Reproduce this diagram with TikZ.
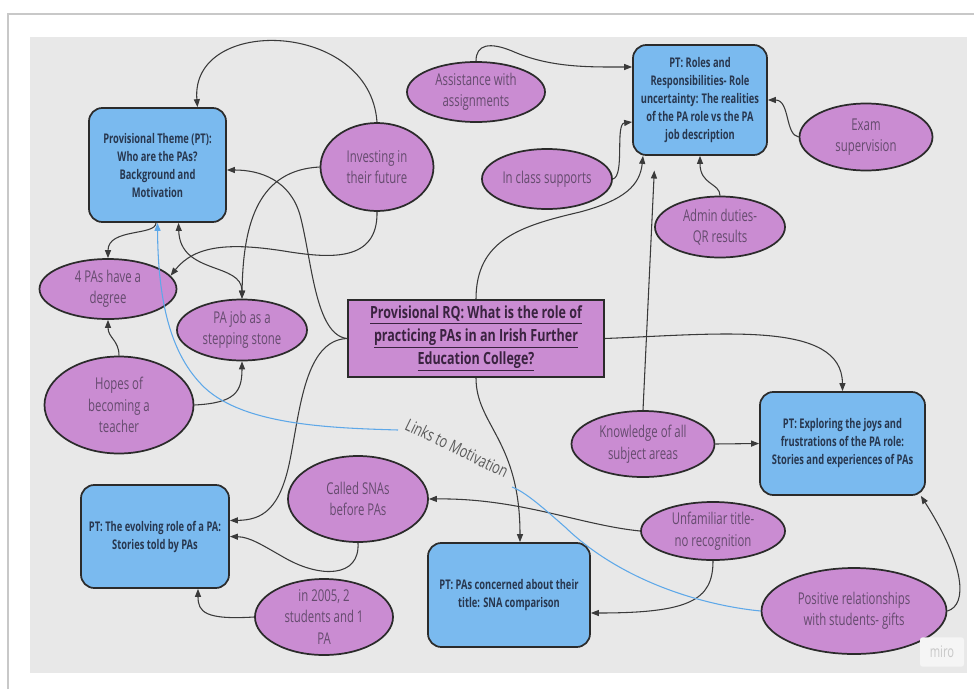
\documentclass[tikz,border=0pt]{standalone}
\usepackage{fontspec}
\setmainfont{Open Sans}[FakeStretch=0.70]
\newfontfamily\rqfont{Open Sans}[FakeStretch=0.745]
\newfontfamily\labelfont{Open Sans}[FakeStretch=0.74]
\usetikzlibrary{shapes.geometric,arrows.meta,calc}
\definecolor{panel}{HTML}{E8E8E8}
\definecolor{bluefill}{HTML}{7ABAEF}
\definecolor{purpfill}{HTML}{CA8CD2}
\definecolor{edgecol}{HTML}{2B2B2B}
\definecolor{bluetext}{HTML}{28374F}
\definecolor{purptext}{HTML}{654B6E}
\definecolor{rqtext}{HTML}{3A2340}
\definecolor{conncol}{HTML}{3A3A3A}
\definecolor{linkblue}{HTML}{5EA8E8}
\definecolor{framegray}{HTML}{C8C8C8}
\definecolor{labelgray}{HTML}{5A5A5A}
\begin{document}
\begin{tikzpicture}[x=0.75pt,y=-0.75pt,
 ptbox/.style={draw=edgecol, line width=1.3pt, fill=bluefill, rounded corners=10pt, inner sep=0pt, align=center, text=bluetext, font=\bfseries\fontsize{10}{13.5}\selectfont},
 bub/.style={ellipse, draw=edgecol, line width=1.3pt, fill=purpfill, inner sep=0pt, align=center, text=purptext, font=\fontsize{12.2}{16.1}\selectfont},
 rqbox/.style={draw=edgecol, line width=1.3pt, fill=purpfill, inner sep=0pt, align=center, text=rqtext, font=\rqfont\bfseries\fontsize{12.6}{17.25}\selectfont},
 conn/.style={draw=conncol, line width=0.8pt, -{Triangle[length=6pt,width=4.5pt]}},
 conntwo/.style={draw=conncol, line width=0.8pt, {Triangle[length=6pt,width=4.5pt]}-{Triangle[length=6pt,width=4.5pt]}},
 linkline/.style={draw=linkblue, line width=0.8pt},
]
\useasboundingbox (0,0) rectangle (974,689);
\fill[white] (0,0) rectangle (974,689);
\draw[framegray, line width=0.8pt] (8,689) -- (8,14) -- (974,14);
\fill[panel] (30,37) rectangle (967,673);

% theme boxes
\node[ptbox, minimum width=102.75pt, minimum height=85.5pt] (theme) at (157.5,165) {Provisional Theme (PT):\\Who are the PAs?\\Background and\\Motivation};
\node[ptbox, minimum width=100.5pt, minimum height=82.5pt] (roles) at (700,100) {PT: Roles and\\Responsibilities- Role\\uncertainty: The realities\\of the PA role vs the PA\\job description};
\node[ptbox, minimum width=123.75pt, minimum height=77.25pt] (explore) at (842.5,443.5) {PT: Exploring the joys and\\frustrations of the PA role:\\Stories and experiences of PAs};
\node[ptbox, minimum width=111pt, minimum height=77.25pt] (evolve) at (155,536.5) {PT: The evolving role of a PA:\\Stories told by PAs};
\node[ptbox, minimum width=121.5pt, minimum height=78pt] (concern) at (509,595) {PT: PAs concerned about their\\title: SNA comparison};
\node[rqbox, minimum width=192pt, minimum height=57.75pt] (rq) at (476,338.5) {\underline{Provisional RQ: What is the role of}\\\underline{practicing PAs in an Irish Further}\\\underline{Education College?}};

% ellipses
\node[bub, minimum width=103.5pt, minimum height=45pt] (assist) at (476,92) {Assistance with\\assignments};
\node[bub, minimum width=97.5pt, minimum height=45pt] (incl) at (547,179) {In class supports};
\node[bub, minimum width=84.75pt, minimum height=66pt] (inv) at (377,167) {Investing in\\their future};
\node[bub, minimum width=99.75pt, minimum height=50.25pt] (exam) at (866,137) {Exam\\supervision};
\node[bub, minimum width=97.5pt, minimum height=45.75pt, inner ysep=-2pt] (admin) at (720,227) {Admin duties-\\QR results};
\node[bub, minimum width=102.75pt, minimum height=45pt, inner ysep=-2pt] (deg) at (108,289) {4 PAs have a\\degree};
\node[bub, minimum width=97.5pt, minimum height=45.75pt, inner ysep=-2pt] (stone) at (242,330) {PA job as a\\stepping stone};
\node[bub, minimum width=111.75pt, minimum height=72.75pt] (hopes) at (119,405) {Hopes of\\becoming a\\teacher};
\node[bub, minimum width=107.25pt, minimum height=49.5pt] (know) at (643,444) {Knowledge of all\\subject areas};
\node[bub, minimum width=108pt, minimum height=43.5pt, inner ysep=-3pt] (unfam) at (713,531) {Unfamiliar title-\\no recognition};
\node[bub, minimum width=138.75pt, minimum height=64.5pt] (pos) at (854,611) {Positive relationships\\with students- gifts};
\node[bub, minimum width=105pt, minimum height=64.5pt] (called) at (358,499) {Called SNAs\\before PAs};
\node[bub, minimum width=103.5pt, minimum height=57pt, inner ysep=-6pt] (y2005) at (324,617) {in 2005, 2\\students and 1\\PA};

% labels
\node[rotate=-26, text=labelgray, font=\labelfont\fontsize{12.8}{14}\selectfont] (links) at (457,448) {Links to Motivation};
\node[fill=white!55!panel, rounded corners=2pt, minimum width=33pt, minimum height=22pt, text=framegray, font=\fontsize{12}{13}\selectfont] (miro) at (942,652) {miro};

% connectors
\draw[conn] (inv.north) .. controls (370,20) and (190,15) .. ($(theme.north)+(40,0)$);
\draw[conn] (inv.west) .. controls (260,170) and (243,220) .. (stone.north);
\draw[conn] (inv.south) .. controls (378,262) and (330,258) .. (290,252) .. controls (230,242) and (195,245) .. (deg.12);
\draw[conn] (rq.west) .. controls (315,335) and (312,260) .. (300,215) .. controls (290,180) and (260,170) .. ($(theme.east)+(0,5)$);
\draw[conn] (rq.west) .. controls (305,340) and (300,410) .. (290,460) .. controls (280,510) and (262,520) .. ($(evolve.east)+(0,-16)$);
\draw[conn] ($(theme.south)+(-1.5,0)$) .. controls (156,236) and (108,228) .. (deg.north);
\draw[conn] (hopes.north) .. controls (119,340) and (108,338) .. (deg.south);
\draw[conn] (hopes.east) .. controls (235,403) and (242,392) .. (stone.south);
\draw[conntwo] ($(theme.south)+(21,0)$) .. controls (180,275) and (242,262) .. (stone.north);
\draw[conn] (rq.north) .. controls (476,240) and (520,226) .. (580,212) .. controls (625,200) and (640,185) .. ($(roles.south)+(-57,0)$);
\draw[conn] (incl.east) .. controls (625,176) and (615,124) .. ($(roles.west)+(0,22)$);
\draw[conn] (assist.north) .. controls (476,44) and (490,42) .. (512,51) .. controls (550,68) and (590,67) .. ($(roles.west)+(0,-33)$);
\draw[conn, shorten >=11pt] (know.north) -- ($(roles.south)+(-45,0)$);
\draw[conn] (admin.north) .. controls (720,183) and (700,185) .. (roles.south);
\draw[conn] (exam.west) .. controls (785,135) and (790,100) .. (roles.east);
\draw[conn] (rq.east) .. controls (720,334) and (842,320) .. (explore.north);
\draw[conn] (know.east) -- (explore.west);
\draw[conn] (rq.south) .. controls (476,425) and (520,440) .. ($(concern.north)+(11,0)$);
\draw[conn] (unfam.west) .. controls (580,525) and (520,498) .. (called.east);
\draw[conn] (unfam.south) .. controls (713,600) and (690,613) .. ($(concern.east)+(0,18)$);
\draw[conn] (pos.east) .. controls (968,605) and (965,565) .. ($(explore.south east)+(-5,0)$);
\draw[conn] (called.south) .. controls (360,578) and (320,578) .. (285,558) .. controls (262,545) and (250,537) .. (evolve.east);
\draw[conn] (y2005.west) .. controls (205,620) and (198,612) .. ($(evolve.south)+(43,0)$);

% blue link
\coordinate (lmA) at (512,487);
\coordinate (lmB) at (398,430);
\draw[linkline] (pos.west) .. controls (700,605) and (620,580) .. (565,527) .. controls (540,505) and (525,492) .. (lmA);
\draw[linkline, -{Triangle[length=6pt,width=4.5pt]}] (lmB) .. controls (330,428) and (245,425) .. (205,388) .. controls (170,355) and (158,300) .. (theme.south);
\end{tikzpicture}
\end{document}
